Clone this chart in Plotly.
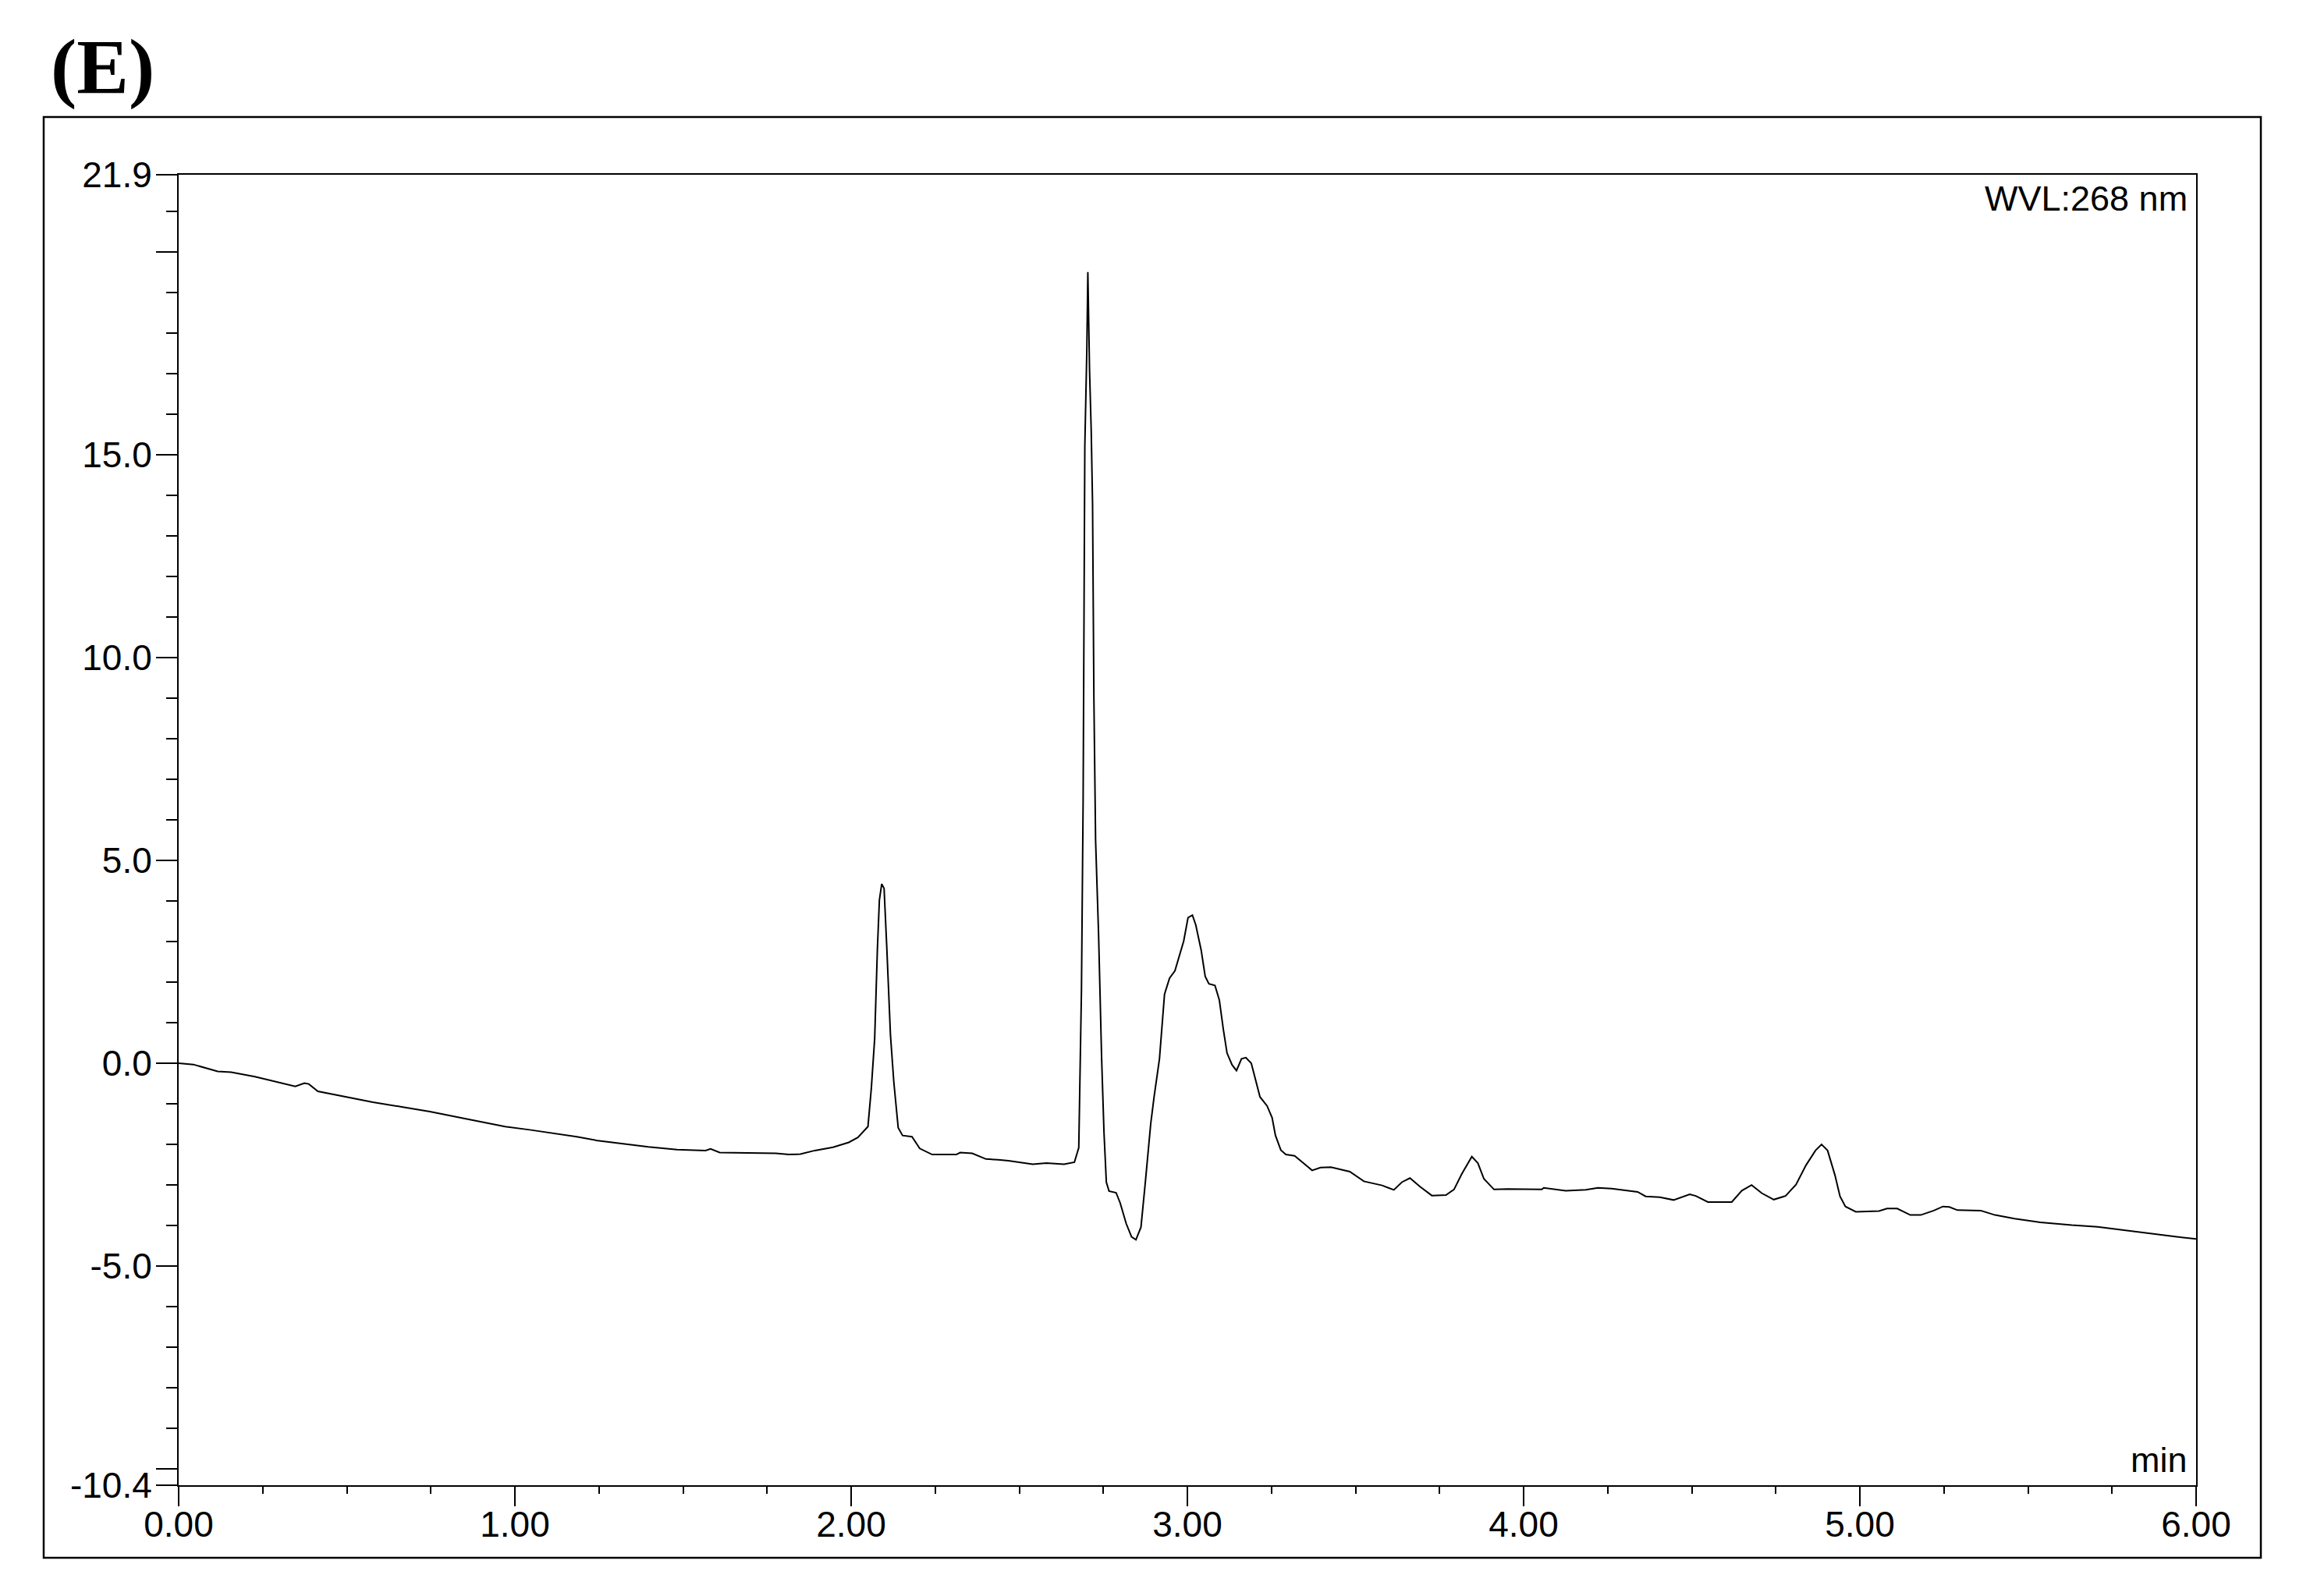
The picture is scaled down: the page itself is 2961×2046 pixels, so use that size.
"""
Chromatogram panel (E): UV trace at 268 nm, 0-6 min.
Values read off the reference trace.
"""
import plotly.graph_objects as go

# retention time (min) and detector signal
TIME = [
    0.000, 0.044, 0.116, 0.156, 0.227, 0.280, 0.347, 0.374, 0.387, 0.414,
    0.471, 0.578, 0.667, 0.747, 0.860, 0.917, 0.971, 1.044, 1.106, 1.184,
    1.242, 1.319, 1.397, 1.482, 1.567, 1.582, 1.609, 1.776, 1.815, 1.849,
    1.892, 1.946, 1.993, 2.020, 2.050, 2.060, 2.070, 2.078, 2.084, 2.091,
    2.098, 2.106, 2.117, 2.127, 2.140, 2.153, 2.181, 2.204, 2.241, 2.313,
    2.324, 2.360, 2.401, 2.437, 2.468, 2.540, 2.581, 2.633, 2.664, 2.677,
    2.680, 2.685, 2.690, 2.695, 2.701, 2.704, 2.709, 2.714, 2.718, 2.722,
    2.727, 2.736, 2.745, 2.752, 2.759, 2.767, 2.788, 2.800, 2.818, 2.834,
    2.847, 2.862, 2.875, 2.891, 2.901, 2.917, 2.932, 2.947, 2.963, 2.973,
    2.989, 3.002, 3.015, 3.025, 3.041, 3.053, 3.064, 3.082, 3.095, 3.107,
    3.118, 3.133, 3.146, 3.161, 3.174, 3.190, 3.206, 3.216, 3.237, 3.252,
    3.262, 3.278, 3.293, 3.319, 3.345, 3.371, 3.396, 3.427, 3.483, 3.525,
    3.579, 3.614, 3.638, 3.662, 3.692, 3.727, 3.769, 3.793, 3.816, 3.846,
    3.864, 3.882, 3.912, 3.953, 4.054, 4.060, 4.125, 4.185, 4.221, 4.262,
    4.339, 4.363, 4.405, 4.446, 4.494, 4.512, 4.548, 4.619, 4.649, 4.678,
    4.708, 4.744, 4.779, 4.810, 4.840, 4.868, 4.886, 4.904, 4.926, 4.941,
    4.957, 4.988, 5.057, 5.081, 5.111, 5.150, 5.181, 5.220, 5.247, 5.266,
    5.290, 5.359, 5.402, 5.460, 5.537, 5.630, 5.707, 5.792, 5.862, 5.947,
    6.000,
]
SIGNAL = [
    0.00, -0.03, -0.20, -0.22, -0.33, -0.43, -0.57, -0.49, -0.51, -0.69,
    -0.78, -0.96, -1.08, -1.19, -1.38, -1.47, -1.56, -1.64, -1.72, -1.81,
    -1.90, -1.98, -2.06, -2.13, -2.15, -2.11, -2.20, -2.22, -2.25, -2.24,
    -2.15, -2.07, -1.95, -1.83, -1.56, -0.62, 0.61, 2.79, 4.02, 4.42,
    4.31, 2.86, 0.69, -0.47, -1.59, -1.78, -1.81, -2.10, -2.25, -2.25,
    -2.20, -2.22, -2.36, -2.38, -2.40, -2.49, -2.46, -2.49, -2.44, -2.08,
    -0.25, 1.81, 6.50, 15.20, 17.60, 19.50, 17.10, 15.60, 13.80, 9.00,
    5.50, 3.15, 0.11, -1.70, -2.93, -3.15, -3.19, -3.44, -3.95, -4.28,
    -4.35, -4.04, -2.93, -1.49, -0.83, 0.11, 1.70, 2.10, 2.28, 2.57,
    3.01, 3.59, 3.65, 3.41, 2.79, 2.14, 1.96, 1.92, 1.56, 0.83,
    0.25, -0.04, -0.18, 0.11, 0.14, 0.00, -0.54, -0.83, -1.05, -1.34,
    -1.78, -2.14, -2.25, -2.28, -2.46, -2.64, -2.57, -2.56, -2.67, -2.91,
    -3.01, -3.12, -2.93, -2.83, -3.04, -3.26, -3.25, -3.11, -2.73, -2.30,
    -2.46, -2.85, -3.11, -3.10, -3.11, -3.07, -3.14, -3.12, -3.07, -3.09,
    -3.17, -3.28, -3.30, -3.37, -3.23, -3.27, -3.42, -3.42, -3.14, -3.00,
    -3.20, -3.36, -3.27, -2.99, -2.51, -2.15, -2.00, -2.15, -2.76, -3.28,
    -3.53, -3.66, -3.64, -3.58, -3.58, -3.74, -3.74, -3.63, -3.53, -3.54,
    -3.62, -3.63, -3.74, -3.83, -3.92, -3.99, -4.03, -4.12, -4.20, -4.28,
    -4.33,
]

X_TICKS = [0, 1, 2, 3, 4, 5, 6]
X_LABELS = ['0.00', '1.00', '2.00', '3.00', '4.00', '5.00', '6.00']
Y_TICKS = [-10.4, -10, -5, 0, 5, 10, 15, 20, 21.9]
Y_LABELS = ['-10.4', '', '-5.0', '0.0', '5.0', '10.0', '15.0', '', '21.9']

FONT = 'Liberation Sans, Arial, sans-serif'

fig = go.Figure()
fig.add_trace(go.Scatter(
    x=TIME, y=SIGNAL, mode='lines',
    line=dict(color='black', width=2),
    showlegend=False, hoverinfo='skip',
))

# page body has an 8 px margin, so left/top are 8 px less than the target
fig.update_layout(
    width=2961, height=2046,
    margin=dict(l=221, r=154, t=216, b=150),
    paper_bgcolor='white', plot_bgcolor='white',
    font=dict(family=FONT, size=46, color='black'),
)
fig.update_xaxes(
    range=[0, 6], tickmode='array', tickvals=X_TICKS, ticktext=X_LABELS,
    ticks='outside', ticklen=25, tickwidth=2, tickcolor='black',
    ticklabelstandoff=-16,
    showline=True, linecolor='black', linewidth=2, mirror=True,
    showgrid=False, zeroline=False,
    tickfont=dict(family=FONT, size=46, color='black'),
    minor=dict(dtick=0.25, tick0=0, ticks='outside', ticklen=9,
               tickwidth=2, tickcolor='black', showgrid=False),
)
fig.update_yaxes(
    range=[-10.4, 21.9], tickmode='array', tickvals=Y_TICKS, ticktext=Y_LABELS,
    ticks='outside', ticklen=27, tickwidth=2, tickcolor='black',
    ticklabelstandoff=-4,
    showline=True, linecolor='black', linewidth=2, mirror=True,
    showgrid=False, zeroline=False,
    tickfont=dict(family=FONT, size=46, color='black'),
    minor=dict(dtick=1, tick0=0, ticks='outside', ticklen=14,
               tickwidth=2, tickcolor='black', showgrid=False),
)

# outer frame round the whole panel
fig.add_shape(type='rect', xref='paper', yref='paper',
              x0=-0.0669, x1=1.0321, y0=-0.0554, y1=1.0440,
              line=dict(color='black', width=2.5), layer='below')

fig.add_annotation(text='<b>(E)</b>', xref='paper', yref='paper',
                   x=-0.064, y=1.0823, xanchor='left', yanchor='middle',
                   showarrow=False,
                   font=dict(family='Liberation Serif, Times New Roman, serif',
                             size=100, color='black'))
fig.add_annotation(text='WVL:268 nm', xref='paper', yref='paper',
                   x=0.9965, y=0.982, xanchor='right', yanchor='middle',
                   showarrow=False, font=dict(family=FONT, size=45, color='black'))
fig.add_annotation(text='min', xref='paper', yref='paper',
                   x=0.9965, y=0.0196, xanchor='right', yanchor='middle',
                   showarrow=False, font=dict(family=FONT, size=45, color='black'))

fig.write_html('out.html')
